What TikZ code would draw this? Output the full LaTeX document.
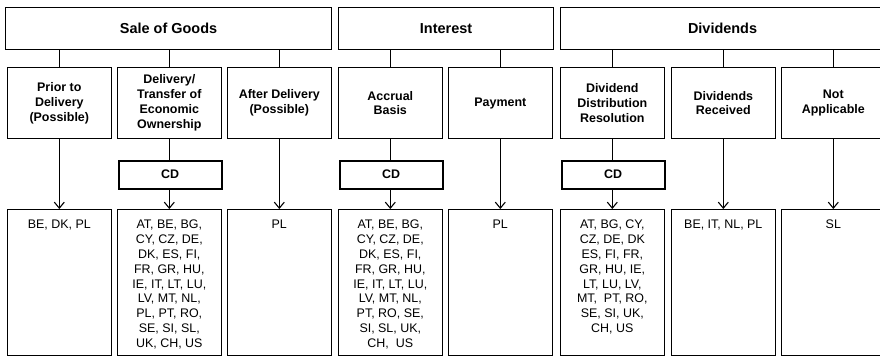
\documentclass[tikz,border=0pt]{standalone}
\usepackage{fontspec}
\setmainfont{Liberation Sans}
\usetikzlibrary{arrows.meta,calc}

\begin{document}
\begin{tikzpicture}[x=1bp,y=-1bp,
  line width=1.1bp,
  headbox/.style={draw, anchor=north west, minimum width=#1, minimum height=42bp,
    inner sep=0pt, font=\fontsize{14.5}{17}\selectfont\bfseries},
  catbox/.style={draw, anchor=north west, minimum width=103.5bp, minimum height=71bp,
    inner sep=0pt, align=center, font=\fontsize{12.5}{15}\selectfont\bfseries},
  cdbox/.style={draw, line width=2.4bp, anchor=north west, minimum width=103bp,
    minimum height=28bp, inner sep=0pt, font=\fontsize{12.5}{15}\selectfont\bfseries},
  listbox/.style={draw, anchor=north west, minimum width=103.5bp, minimum height=146bp,
    inner sep=0pt},
  listtext/.style={anchor=north, inner sep=0pt, align=center,
    font=\fontsize{12.5}{15}\selectfont},
  link/.style={draw},
  arrow/.style={draw, -{Straight Barb[length=6bp,width=10bp,line width=1.1bp]}}
]
\useasboundingbox (0,0) rectangle (880,356);
\clip (0,0) rectangle (880,356);

% top level headings
\node[headbox=326bp] (sog) at (5,7) {Sale of Goods};
\node[headbox=215bp] (int) at (338,7) {Interest};
\node[headbox=324bp] (div) at (560,7) {Dividends};

% timing categories
\node[catbox] (c1) at (7,67)   {Prior to\\Delivery\\(Possible)};
\node[catbox] (c2) at (117,67) {Delivery/\\Transfer of\\Economic\\Ownership};
\node[catbox] (c3) at (227,67) {After Delivery\\(Possible)};
\node[catbox] (c4) at (338,67) {Accrual\\Basis};
\node[catbox] (c5) at (448,67) {Payment};
\node[catbox] (c6) at (560,67) {Dividend\\Distribution\\Resolution};
\node[catbox] (c7) at (671,67) {Dividends\\Received};
\node[catbox] (c8) at (781,67) {Not\\Applicable};

% CD markers
\node[cdbox] (d2) at (117.5,159.5) {CD};
\node[cdbox] (d4) at (338.5,159.5) {CD};
\node[cdbox] (d6) at (560.5,159.5) {CD};

% country lists
\foreach \i/\x in {1/7,2/117,3/227,4/338,5/448,6/560,7/671,8/781}
  \node[listbox] (l\i) at (\x,209) {};

\node[listtext] (t1) at ($(l1.north)+(0,10)$) {BE, DK, PL};
\node[listtext] (t2) at ($(l2.north)+(0,10)$) {AT, BE, BG,\\CY, CZ, DE,\\DK, ES, FI,\\FR, GR, HU,\\IE, IT, LT, LU,\\LV, MT, NL,\\PL, PT, RO,\\SE, SI, SL,\\UK, CH, US};
\node[listtext] (t3) at ($(l3.north)+(0,10)$) {PL};
\node[listtext] (t4) at ($(l4.north)+(0,10)$) {AT, BE, BG,\\CY, CZ, DE,\\DK, ES, FI,\\FR, GR, HU,\\IE, IT, LT, LU,\\LV, MT, NL,\\PT, RO, SE,\\SI, SL, UK,\\CH, \ US};
\node[listtext] (t5) at ($(l5.north)+(0,10)$) {PL};
\node[listtext] (t6) at ($(l6.north)+(0,10)$) {AT, BG, CY,\\CZ, DE, DK\\ES, FI, FR,\\GR, HU, IE,\\LT, LU, LV,\\MT, \ PT, RO,\\SE, SI, UK,\\CH, US};
\node[listtext] (t7) at ($(l7.north)+(0,10)$) {BE, IT, NL, PL};
\node[listtext] (t8) at ($(l8.north)+(0,10)$) {SL};

% heading to category links
\foreach \c in {c1,c2,c3} \path[link] (\c.north) -- (\c.north |- sog.south);
\foreach \c in {c4,c5} \path[link] (\c.north) -- (\c.north |- int.south);
\foreach \c in {c6,c7,c8} \path[link] (\c.north) -- (\c.north |- div.south);

% category to CD marker links
\foreach \i in {2,4,6} {
  \path[link] (c\i.south) -- (d\i.north -| c\i.south);
  \path[arrow] (d\i.south -| l\i.north) -- (l\i.north);
}

% direct arrows to lists
\foreach \i in {1,3,5,7,8} \path[arrow] (c\i.south) -- (l\i.north);
\end{tikzpicture}
\end{document}
